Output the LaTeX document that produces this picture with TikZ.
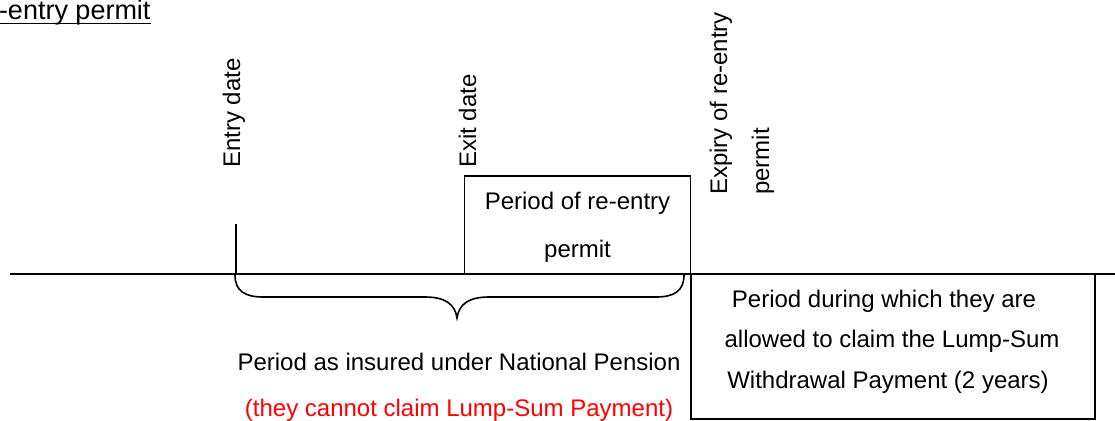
\documentclass[tikz,border=0pt]{standalone}
\usepackage{fontspec}
\setmainfont{Liberation Sans}
\definecolor{warnred}{RGB}{255,0,0}
\begin{document}
\begin{tikzpicture}[x=1pt,y=-1pt,
  txt/.style={inner sep=0pt, font=\fontsize{24}{28}\selectfont},
  lbl/.style={txt, anchor=base},
  vlbl/.style={txt, rotate=90, anchor=base west},
  boxline/.style={draw=black, line width=1.8pt},
  mainline/.style={draw=black, line width=2pt}]
\useasboundingbox (0,0) rectangle (1115,420);

% title
\node[inner sep=0pt, anchor=base west, font=\fontsize{27}{30}\selectfont] (title) at (-1.2,19.5) {-entry permit};
\draw[line width=1.5pt] ([yshift=-4pt]title.base west) -- ([yshift=-4pt]title.base east);

% timeline
\coordinate (lstart) at (10,273.5);
\coordinate (lend) at (1115,273.5);
\draw[mainline] (lstart) -- (lend);

% entry tick
\coordinate (entrytop) at (236,224);
\coordinate (entrybot) at (236,273.5);
\draw[boxline] (entrytop) -- (entrybot);

% vertical labels
\node[vlbl] (entry) at (240,168) {Entry date};
\node[vlbl] (exit) at (476,168) {Exit date};
\node[vlbl] (expiry1) at (727,195) {Expiry of re-entry};
\node[vlbl] (expiry2) at (769,195) {permit};

% re-entry permit box
\node[boxline, minimum width=226pt, minimum height=97.5pt, inner sep=0pt] (reentry) at (577.5,224.75) {};
\node[lbl] (reentry1) at (577.5,209) {Period of re-entry};
\node[lbl] (reentry2) at (577.5,257) {permit};

% lump-sum box
\node[boxline, minimum width=404pt, minimum height=145.5pt, inner sep=0pt] (lump) at (893,346.25) {};
\node[lbl] (lump1) at (884,307) {Period during which they are};
\node[lbl] (lump2) at (892,347) {allowed to claim the Lump-Sum};
\node[lbl] (lump3) at (888,388) {Withdrawal Payment (2 years)};

% brace
\coordinate (bl) at (235,275);
\coordinate (btip) at (457,318);
\coordinate (br) at (684,275);
\draw[line width=1.6pt] (bl) .. controls (235,291) and (245,297) .. (263,297)
  -- (425,297) .. controls (445,297) and (455,304) .. (btip)
  .. controls (459,304) and (469,297) .. (489,297)
  -- (656,297) .. controls (674,297) and (684,291) .. (br);

% insured period text
\node[lbl] (insured) at (459,370) {Period as insured under National Pension};
\node[lbl, text=warnred] (cannot) at (459,416.5) {(they cannot claim Lump-Sum Payment)};
\end{tikzpicture}
\end{document}
